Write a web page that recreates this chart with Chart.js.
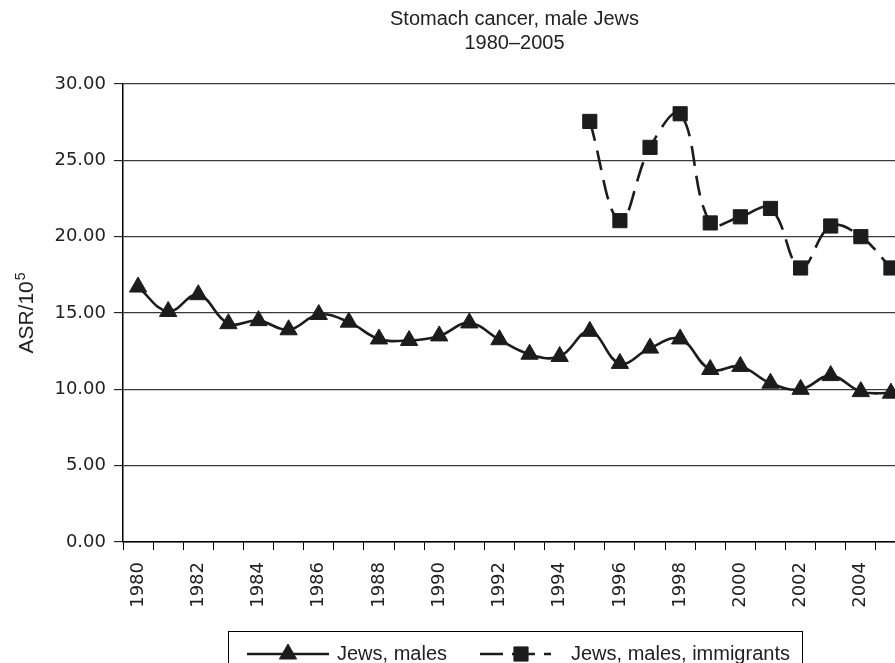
<!DOCTYPE html>
<html>
<head>
<meta charset="utf-8">
<script src="https://cdn.jsdelivr.net/npm/chart.js@4.4.1/dist/chart.umd.min.js"></script>
<style>
  html, body { margin: 0; padding: 0; background: #ffffff; overflow: hidden; }
  #wrap { width: 895px; height: 663px; overflow: hidden; position: relative; }
  canvas { display: block; }
</style>
</head>
<body>
<div id="wrap"><canvas id="c" width="930" height="663"></canvas></div>
<script>
// ---- data ----
const titleLines = ['Stomach cancer, male Jews', '1980\u20132005'];
const yAxisTitleBase = 'ASR/10';
const yAxisTitleSup = '5';
const years = ['1980','1981','1982','1983','1984','1985','1986','1987','1988','1989',
               '1990','1991','1992','1993','1994','1995','1996','1997','1998','1999',
               '2000','2001','2002','2003','2004','2005'];
const jewsMales = [16.7, 15.1, 16.2, 14.3, 14.5, 13.9, 14.9, 14.4, 13.3, 13.2,
                   13.5, 14.35, 13.25, 12.3, 12.15, 13.8, 11.7, 12.7, 13.3, 11.3,
                   11.5, 10.4, 10.0, 10.9, 9.85, 9.75];
const jewsMalesImmigrants = [null, null, null, null, null, null, null, null, null, null,
                             null, null, null, null, null, 27.55, 21.05, 25.85, 28.05, 20.9,
                             21.3, 21.85, 17.95, 20.7, 20.0, 17.95];
const seriesNames = ['Jews, males', 'Jews, males, immigrants'];
const yTicks = { min: 0, max: 30, step: 5 };

const INK = '#1c1c1c';
const AXIS_FONT = "'DejaVu Sans', sans-serif";
const TEXT_FONT = "'Liberation Sans', Arial, sans-serif";

// y-axis title with a real superscript
const yTitle = {
  id: 'yTitle',
  afterDraw(chart) {
    const ctx = chart.ctx;
    const area = chart.chartArea;
    ctx.save();
    ctx.fillStyle = '#222';
    ctx.textBaseline = 'alphabetic';
    ctx.textAlign = 'left';
    ctx.font = '21px ' + TEXT_FONT;
    const w = ctx.measureText(yAxisTitleBase).width;
    ctx.font = '14px ' + TEXT_FONT;
    const ws = ctx.measureText(yAxisTitleSup).width;
    const total = w + 1 + ws;
    const cy = (area.top + area.bottom) / 2;
    ctx.translate(33, cy + total / 2);
    ctx.rotate(-Math.PI / 2);
    ctx.font = '21px ' + TEXT_FONT;
    ctx.fillText(yAxisTitleBase, 0, 0);
    ctx.font = '14px ' + TEXT_FONT;
    ctx.fillText(yAxisTitleSup, w + 1, -8);
    ctx.restore();
  }
};

// custom legend drawn like the reference (line + marker samples inside a box)
const boxLegend = {
  id: 'boxLegend',
  afterDraw(chart) {
    const ctx = chart.ctx;
    const ds = chart.data.datasets;
    const boxL = 228, boxT = 631, boxW = 574, boxH = 44;
    const cy = 654;
    ctx.save();
    ctx.strokeStyle = '#000';
    ctx.lineWidth = 1;
    ctx.strokeRect(boxL + 0.5, boxT + 0.5, boxW, boxH);

    // sample 1: solid line + triangle
    ctx.strokeStyle = ds[0].borderColor;
    ctx.lineWidth = ds[0].borderWidth;
    ctx.setLineDash([]);
    ctx.beginPath(); ctx.moveTo(247, cy); ctx.lineTo(329, cy); ctx.stroke();
    ctx.fillStyle = ds[0].pointBackgroundColor;
    ctx.strokeStyle = ds[0].pointBorderColor;
    ctx.lineWidth = 1;
    Chart.helpers.drawPoint(ctx, { pointStyle: ds[0].pointStyle, radius: ds[0].pointRadius, borderWidth: 1, rotation: 0 }, 288, cy);

    // sample 2: dashed line + square
    ctx.strokeStyle = ds[1].borderColor;
    ctx.lineWidth = ds[1].borderWidth;
    ctx.setLineDash([23, 9]);
    ctx.beginPath(); ctx.moveTo(480, cy); ctx.lineTo(551, cy); ctx.stroke();
    ctx.setLineDash([]);
    ctx.fillStyle = ds[1].pointBackgroundColor;
    ctx.strokeStyle = ds[1].pointBorderColor;
    ctx.lineWidth = 1;
    Chart.helpers.drawPoint(ctx, { pointStyle: ds[1].pointStyle, radius: ds[1].pointRadius, borderWidth: 1, rotation: 0 }, 521, cy);

    ctx.fillStyle = '#222';
    ctx.font = "20px " + TEXT_FONT;
    ctx.textBaseline = 'middle';
    ctx.textAlign = 'left';
    ctx.fillText(ds[0].label, 337, cy);
    ctx.fillText(ds[1].label, 571, cy);
    ctx.restore();
  }
};

new Chart(document.getElementById('c'), {
  type: 'line',
  data: {
    labels: years,
    datasets: [
      {
        label: seriesNames[0],
        data: jewsMales,
        borderColor: INK,
        borderWidth: 2.6,
        backgroundColor: INK,
        pointBackgroundColor: INK,
        pointBorderColor: INK,
        pointBorderWidth: 1,
        pointStyle: 'triangle',
        pointRadius: 10,
        tension: 0.4,
        fill: false
      },
      {
        label: seriesNames[1],
        data: jewsMalesImmigrants,
        borderColor: INK,
        borderWidth: 2.6,
        borderDash: [20, 10],
        backgroundColor: INK,
        pointBackgroundColor: INK,
        pointBorderColor: INK,
        pointBorderWidth: 1,
        pointStyle: 'rect',
        pointRadius: 10,
        tension: 0.4,
        spanGaps: false,
        fill: false
      }
    ]
  },
  options: {
    responsive: false,
    animation: false,
    devicePixelRatio: 1,
    layout: { padding: { left: 0, right: 24, top: 0, bottom: 0 } },
    plugins: {
      legend: { display: false },
      tooltip: { enabled: false },
      title: {
        display: true,
        text: titleLines,
        fullSize: false,
        color: '#222',
        font: { family: TEXT_FONT, size: 20, weight: 'normal', lineHeight: 1.2 },
        padding: { top: 7, bottom: 29 }
      }
    },
    scales: {
      x: {
        type: 'category',
        offset: true,
        grid: {
          display: true,
          offset: true,
          drawOnChartArea: false,
          drawTicks: true,
          tickLength: 8,
          tickColor: '#000',
          tickWidth: 1
        },
        border: { display: true, color: '#000', width: 1.5 },
        ticks: {
          autoSkip: false,
          maxRotation: 90,
          minRotation: 90,
          padding: 12,
          color: '#222',
          font: { family: AXIS_FONT, size: 18 },
          callback: function (value, index) {
            return index % 2 === 0 ? years[index] : '';
          }
        },
        afterFit: function (scale) { scale.height = 121; }
      },
      y: {
        min: yTicks.min,
        max: yTicks.max,
        grid: {
          color: '#3a3a3a',
          lineWidth: 1.3,
          drawTicks: true,
          tickLength: 9,
          tickColor: '#000',
          tickWidth: 1
        },
        border: { display: true, color: '#000', width: 1.5 },
        ticks: {
          stepSize: yTicks.step,
          padding: 8,
          color: '#222',
          font: { family: AXIS_FONT, size: 18 },
          callback: function (v) { return Number(v).toFixed(2); }
        },
        afterFit: function (scale) { scale.width = 123; }
      }
    }
  },
  plugins: [yTitle, boxLegend]
});
</script>
</body>
</html>
